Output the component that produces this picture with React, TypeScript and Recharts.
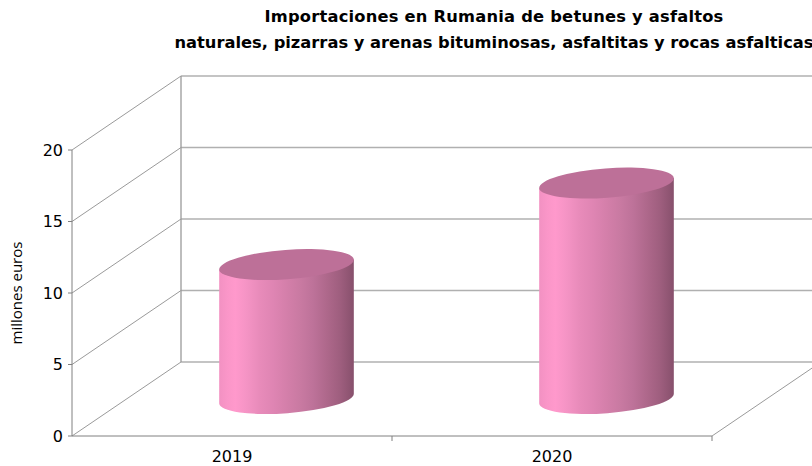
import React from "react";
import { ComposedChart, Bar, XAxis, YAxis, CartesianGrid } from "recharts";

const categories = ["2019", "2020"];
const values = [9.4, 15.1];
const yTicks = [0, 5, 10, 15, 20];
const titleLines = [
  "Importaciones en Rumania de betunes y asfaltos",
  "naturales, pizarras y arenas bituminosas, asfaltitas y rocas asfalticas",
];
const yLabel = "millones euros";
const data = categories.map((year, i) => ({ year, value: values[i] }));

const DEPTH_X = 109;
const DEPTH_Y = 74;
const PLOT_W = 640;
const RX = 67.5;
const RY = 14.7;
const TILT = 4.3;
const TOP_COLOR = "#BD7098";
const TICK_FONT = "'DejaVu Sans', Verdana, sans-serif";

const bands: [number, string][] = [
  [0, "#F291C2"], [0.06, "#FA96C8"], [0.12, "#FF99CC"], [0.2, "#F594C5"], [0.3, "#E88BBA"],
  [0.4, "#DF85B3"], [0.5, "#D47FAA"], [0.6, "#C97AA2"], [0.7, "#BD7299"], [0.8, "#AE688B"],
  [0.9, "#9E5E7E"], [1, "#87506C"],
];

const Cylinder = (props: any) => {
  const { x, y, width, height } = props;
  const cx = x + width / 2 + DEPTH_X / 2;
  const topY = y - DEPTH_Y / 2;
  const botY = y + height - DEPTH_Y / 2 - 0.5;
  const t = (TILT * Math.PI) / 180;
  const ax = RX * Math.cos(t);
  const ay = RX * Math.sin(t);
  const body = `M${cx - ax},${topY + ay} L${cx - ax},${botY + ay} A${RX},${RY} ${-TILT} 0 0 ${cx + ax},${botY - ay} L${cx + ax},${topY - ay} Z`;
  return (
    <g>
      <path d={body} fill="url(#cyl)" />
      <ellipse cx={cx} cy={topY} rx={RX} ry={RY} fill={TOP_COLOR} transform={`rotate(${-TILT} ${cx} ${topY})`} />
    </g>
  );
};

const Wall = (p: any) => {
  const { x1, y1, x2, index } = p;
  const bx = x1 + DEPTH_X;
  const by = y1 - DEPTH_Y;
  const isFloor = Math.abs(y1 - (p.y + p.height)) < 1;
  const isTop = Math.abs(y1 - p.y) < 1;
  return (
    <g key={`w${index}`}>
      <line x1={x1} y1={y1} x2={bx} y2={by} stroke="#9a9a9a" strokeWidth={1} />
      <line x1={bx} y1={by} x2={812} y2={by} stroke="#b0b0b0" strokeWidth={1.3} />
      {isTop && <line x1={bx} y1={by} x2={bx} y2={p.y + p.height - DEPTH_Y} stroke="#9a9a9a" strokeWidth={1.3} />}
      {isFloor && <line x1={x2} y1={y1} x2={x2 + DEPTH_X} y2={by} stroke="#9a9a9a" strokeWidth={1} />}
    </g>
  );
};

const XTick = (p: any) => {
  const half = PLOT_W / categories.length / 2;
  return (
    <g>
      <line x1={p.x + half} y1={p.y - 8} x2={p.x + half} y2={p.y - 3} stroke="#808080" />
      <text x={p.x} y={p.y + 18} textAnchor="middle" fontSize={16} fontFamily={TICK_FONT} fill="#000">
        {p.payload.value}
      </text>
    </g>
  );
};

export default function App() {
  return (
    <div style={{ position: "absolute", left: 0, top: 0, width: 812, height: 466, overflow: "hidden", background: "#fff" }}>
      <div
        style={{
          position: "absolute", left: 94, width: 800, top: 4, textAlign: "center", whiteSpace: "nowrap",
          fontFamily: TICK_FONT, fontWeight: 700, fontSize: 16.3, lineHeight: "26px", color: "#000",
        }}
      >
        {titleLines.map((l, i) => (<div key={l} style={{ letterSpacing: i === 0 ? 0.22 : 0 }}>{l}</div>))}
      </div>
      <ComposedChart
        width={812}
        height={466}
        data={data}
        margin={{ top: 150, right: 100, bottom: 0, left: 12 }}
        barCategoryGap={0}
        style={{ position: "absolute", left: 0, top: 0 }}
      >
        <defs>
          <linearGradient id="cyl" x1="0" y1="0" x2="1" y2="0">
            {bands.map(([o, c]) => (<stop key={o} offset={o} stopColor={c} />))}
          </linearGradient>
        </defs>
        <CartesianGrid vertical={false} horizontal={Wall as any} syncWithTicks />
        <XAxis
          dataKey="year"
          height={30}
          stroke="#808080"
          tickLine={false}
          tick={XTick as any}
          interval={0}
        />
        <YAxis
          domain={[0, 20]}
          ticks={yTicks}
          width={60}
          stroke="#808080"
          tickSize={4}
          tickMargin={5}
          interval={0}
          tick={{ fontSize: 16, fontFamily: TICK_FONT, fill: "#000" }}
          label={{
            value: yLabel, angle: -90, position: "insideLeft", offset: 5,
            style: { fontSize: 15, fontFamily: "'Open Sans', sans-serif", fill: "#000", textAnchor: "middle" },
          }}
        />
        <Bar dataKey="value" barSize={134} shape={Cylinder as any} isAnimationActive={false} />
      </ComposedChart>
    </div>
  );
}
